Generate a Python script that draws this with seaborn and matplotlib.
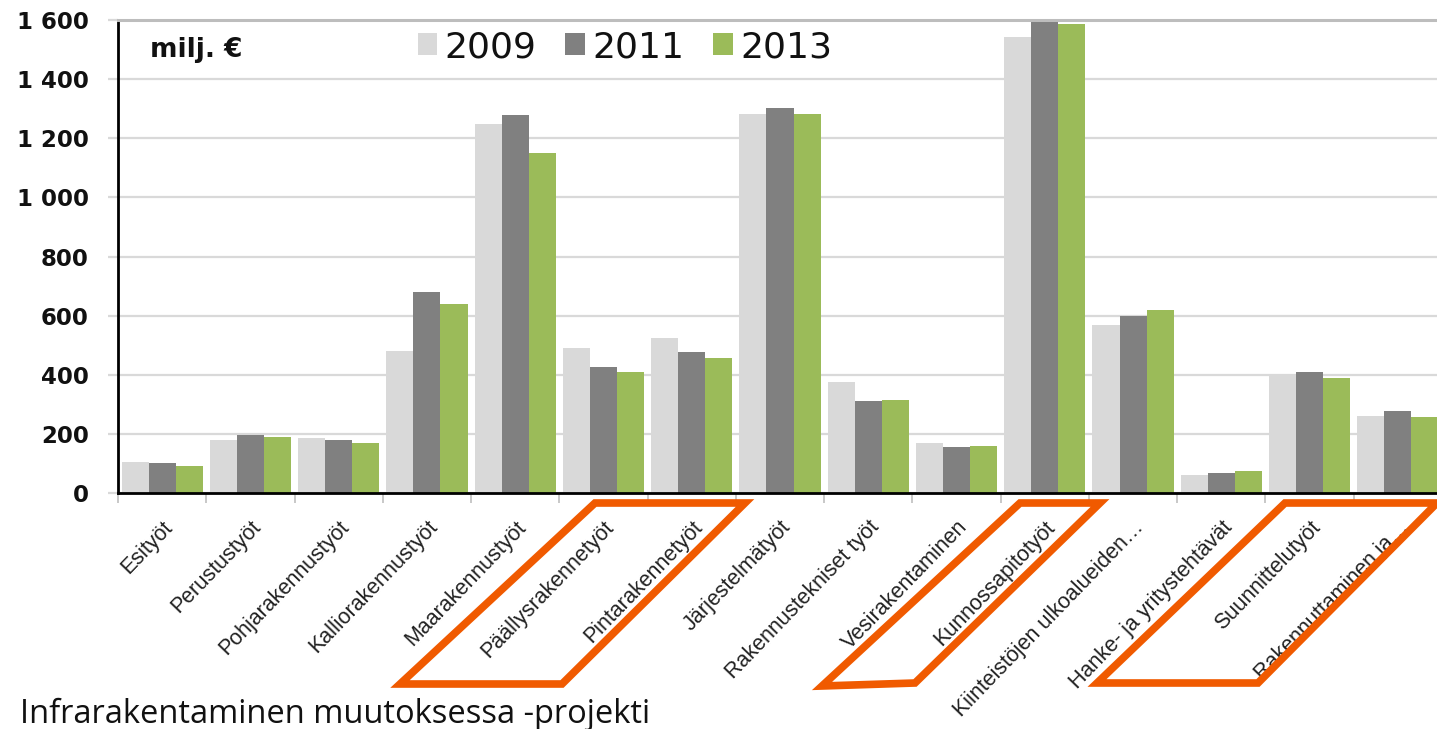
import numpy as np
import pandas as pd
import matplotlib
matplotlib.use("Agg")
import matplotlib.pyplot as plt
from matplotlib.patches import Polygon
from matplotlib.ticker import FuncFormatter, FixedLocator
import seaborn as sns

categories = ["Esityöt", "Perustustyöt", "Pohjarakennustyöt", "Kalliorakennustyöt",
              "Maarakennustyöt", "Päällysrakennetyöt", "Pintarakennetyöt", "Järjestelmätyöt",
              "Rakennustekniset työt", "Vesirakentaminen", "Kunnossapitotyöt",
              "Kiinteistöjen ulkoalueiden…", "Hanke- ja yritystehtävät", "Suunnittelutyöt",
              "Rakennuttaminen ja…"]
years = ["2009", "2011", "2013"]
v2009 = [105, 180, 185, 480, 1248, 490, 525, 1282, 375, 170, 1543, 568, 60, 399, 262]
v2011 = [100, 197, 180, 680, 1280, 426, 478, 1302, 312, 155, 1610, 600, 68, 408, 276]
v2013 = [92, 190, 168, 640, 1150, 410, 457, 1282, 313, 158, 1587, 619, 75, 389, 258]
colors = ["#D9D9D9", "#808080", "#9BBB59"]
unit_label = "milj. €"
footer = "Infrarakentaminen muutoksessa -projekti"
yticks = [0, 200, 400, 600, 800, 1000, 1200, 1400, 1600]

df = pd.DataFrame({
    "cat": categories * 3,
    "year": [y for y in years for _ in categories],
    "value": v2009 + v2011 + v2013,
})

sns.set_theme(style="white")
plt.rcParams["font.family"] = ["DejaVu Sans"]

W, H = 1437, 729
fig = plt.figure(figsize=(W / 100, H / 100), dpi=100)
ax = fig.add_axes([118 / W, 1 - 493 / H, (1442 - 118) / W, (493 - 20) / H])

sns.barplot(data=df, x="cat", y="value", hue="year", palette=colors, width=0.92,
            saturation=1, edgecolor="none", linewidth=0, ax=ax, order=categories,
            hue_order=years)

ax.set_ylim(0, 1600)
ax.set_xlim(-0.5, len(categories) - 0.5)
ax.set_xlabel("")
ax.set_ylabel("")
ax.yaxis.set_major_locator(FixedLocator(yticks))
ax.yaxis.set_major_formatter(FuncFormatter(lambda v, p: f"{int(v):,}".replace(",", " ")))
ax.set_axisbelow(True)
ax.yaxis.grid(True, color="#D9D9D9", lw=1.6)
ax.xaxis.grid(False)

for lab in ax.get_yticklabels():
    lab.set_fontweight("bold")
    lab.set_fontsize(16.5)
    lab.set_color("#111111")
ax.tick_params(axis="y", length=7, width=1.6, color="#D9D9D9", pad=14, left=True)

ax.set_xticks(range(len(categories)))
ax.set_xticklabels(categories, rotation=46, ha="right", rotation_mode="anchor",
                   fontsize=15.5, family=["Liberation Sans", "DejaVu Sans"], color="#222222")
ax.tick_params(axis="x", which="major", length=0, pad=17)
ax.set_xticks(np.arange(len(categories) + 1) - 0.5, minor=True)
ax.tick_params(axis="x", which="minor", length=7, width=1.2, color="#BFBFBF", bottom=True)

for s in ["left", "bottom"]:
    ax.spines[s].set_color("black")
    ax.spines[s].set_linewidth(2)
ax.spines["top"].set_color("#BDBDBD")
ax.spines["top"].set_linewidth(2.2)
ax.spines["right"].set_visible(False)

leg = ax.legend(loc="center", bbox_to_anchor=(625 / W, 1 - 47 / H),
                bbox_transform=fig.transFigure, ncol=3, frameon=False, fontsize=26,
                handlelength=0.55, handleheight=0.55, handletextpad=0.2,
                columnspacing=0.8, borderaxespad=0)
for t in leg.get_texts():
    t.set_color("#111111")

fig.text(150 / W, 1 - 50 / H, unit_label, fontsize=19, fontweight="bold",
         ha="left", va="center", color="#111111")
fig.text(20 / W, 1 - 714 / H, footer, fontsize=23.5, family=["Open Sans", "DejaVu Sans"],
         ha="left", va="center", color="#111111")

# orange highlight frames (annotation shapes, in pixel coordinates)
frames = [
    [(595, 503), (745, 503), (562, 684), (400, 684)],
    [(1020, 503), (1100, 503), (915, 683), (822, 686)],
    [(1285, 503), (1437, 503), (1258, 683), (1097, 683)],
]
for pts in frames:
    poly = Polygon([(x / W, 1 - y / H) for x, y in pts], closed=True, fill=False,
                   edgecolor="#F05A00", lw=5.5, joinstyle="miter",
                   transform=fig.transFigure, clip_on=False)
    fig.add_artist(poly)

fig.savefig("out.png", dpi=100)
